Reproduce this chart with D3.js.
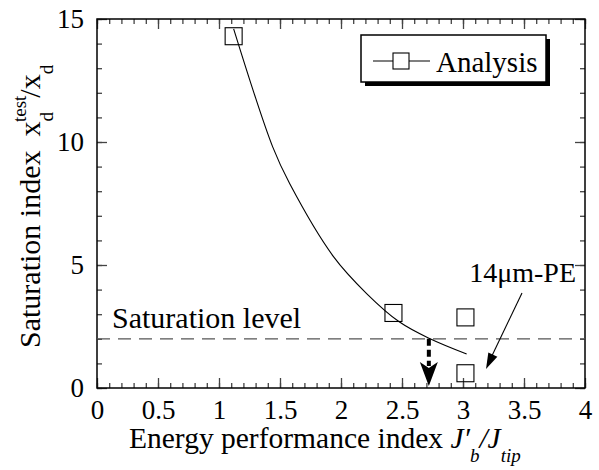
<!DOCTYPE html>
<html>
<meta charset="utf-8">
<style>
  body { margin: 0; background: #fff; }
  svg text { font-family: "Liberation Serif", "DejaVu Serif", serif !important; fill: #000; }
</style>
<body>
<svg width="599" height="470"></svg>
<script src="https://d3js.org/d3.v7.min.js"></script>
<script>
  // measured test points
  const testX = [1.12, 2.43, 3.02, 3.02]
  const testY = [14.3, 3.05, 2.87, 0.6]
  // analysis curve
  const curveX = [1.12, 1.44, 1.58, 1.94, 2.21, 2.48, 2.73, 3.03]
  const curveY = [14.6, 9.8, 8.3, 5.33, 3.84, 2.68, 2.0, 1.38]
  const xMajor = [0, 0.5, 1, 1.5, 2, 2.5, 3, 3.5, 4]
  const xMajorLabels = ['0', '0.5', '1', '1.5', '2', '2.5', '3', '3.5', '4']
  const yMajor = [0, 5, 10, 15]
  const satLevel = 2
  const satX = 2.72

  const L = 97, R = 585, T = 19, B = 388
  const svg = d3.select('svg')
  const x = d3.scaleLinear().domain([0, 4]).range([L, R])
  const y = d3.scaleLinear().domain([0, 15]).range([B, T])

  const xMinor = d3.range(0, 41).map(d => d / 10)
  const yMinor = d3.range(0, 16)

  // minor ticks
  svg.append('g').attr('transform', `translate(0,${B})`)
    .call(d3.axisBottom(x).tickValues(xMinor).tickSize(-5).tickFormat(''))
  svg.append('g').attr('transform', `translate(0,${T})`)
    .call(d3.axisTop(x).tickValues(xMinor).tickSize(-5).tickFormat(''))
  svg.append('g').attr('transform', `translate(${L},0)`)
    .call(d3.axisLeft(y).tickValues(yMinor).tickSize(-5).tickFormat(''))
  svg.append('g').attr('transform', `translate(${R},0)`)
    .call(d3.axisRight(y).tickValues(yMinor).tickSize(-5).tickFormat(''))

  // major ticks with labels
  svg.append('g').attr('transform', `translate(0,${B})`)
    .call(d3.axisBottom(x).tickValues(xMajor).tickSize(-10).tickPadding(12)
      .tickFormat((d, i) => xMajorLabels[i]))
  svg.append('g').attr('transform', `translate(0,${T})`)
    .call(d3.axisTop(x).tickValues(xMajor).tickSize(-10).tickFormat(''))
  svg.append('g').attr('transform', `translate(${L},0)`)
    .call(d3.axisLeft(y).tickValues(yMajor).tickSize(-10).tickPadding(13).tickFormat(d3.format('d')))
  svg.append('g').attr('transform', `translate(${R},0)`)
    .call(d3.axisRight(y).tickValues(yMajor).tickSize(-10).tickFormat(''))

  svg.selectAll('.domain').remove()
  svg.selectAll('.tick line').attr('stroke', '#444').attr('stroke-width', 1.3)
  svg.selectAll('.tick text').style('font-size', '27px').attr('fill', '#000')

  // frame
  svg.append('rect').attr('x', L).attr('y', T).attr('width', R - L).attr('height', B - T)
    .attr('fill', 'none').attr('stroke', '#000').attr('stroke-width', 1.5)

  // saturation level dashed line
  svg.append('line').attr('x1', L).attr('x2', R).attr('y1', y(satLevel)).attr('y2', y(satLevel))
    .attr('stroke', '#555').attr('stroke-width', 1.3).attr('stroke-dasharray', '13,8')

  svg.append('text').attr('x', 112).attr('y', 328).style('font-size', '30px').text('Saturation level')

  // analysis curve
  const pts = curveX.map((d, i) => [d, curveY[i]])
  svg.append('path').datum(pts)
    .attr('d', d3.line().x(d => x(d[0])).y(d => y(d[1])).curve(d3.curveCatmullRom))
    .attr('fill', 'none').attr('stroke', '#000').attr('stroke-width', 1.1)

  // test squares
  const s = 17
  svg.append('g').selectAll('rect').data(testX).enter().append('rect')
    .attr('x', d => x(d) - s / 2)
    .attr('y', (d, i) => y(testY[i]) - s / 2)
    .attr('width', s).attr('height', s)
    .attr('fill', 'none').attr('stroke', '#000').attr('stroke-width', 1.1)

  // arrow from saturation crossing down to axis
  const ax = x(satX)
  svg.append('line').attr('x1', ax).attr('x2', ax)
    .attr('y1', y(satLevel)).attr('y2', 366)
    .attr('stroke', '#000').attr('stroke-width', 4).attr('stroke-dasharray', '7,4')
  svg.append('path')
    .attr('d', `M${ax - 9},${362} L${ax},${368} L${ax + 9},${362} L${ax},${386} Z`)
    .attr('fill', '#000')

  // 14um-PE annotation
  svg.append('text').attr('x', 576).attr('y', 282).attr('text-anchor', 'end')
    .style('font-size', '28px').text('14μm-PE')
  const a1 = [522, 293], a2 = [486, 369]
  svg.append('line').attr('x1', a1[0]).attr('y1', a1[1]).attr('x2', a2[0] + 3).attr('y2', a2[1] - 7)
    .attr('stroke', '#000').attr('stroke-width', 1.1)
  const ang = Math.atan2(a2[1] - a1[1], a2[0] - a1[0])
  const hl = 16, hw = 5
  const bx = a2[0] - hl * Math.cos(ang), by = a2[1] - hl * Math.sin(ang)
  svg.append('path')
    .attr('d', `M${a2[0]},${a2[1]} L${bx + hw * Math.sin(ang)},${by - hw * Math.cos(ang)} L${bx - hw * Math.sin(ang)},${by + hw * Math.cos(ang)} Z`)
    .attr('fill', '#000')

  // legend
  const lg = svg.append('g')
  lg.append('rect').attr('x', 365).attr('y', 39).attr('width', 185).attr('height', 47).attr('fill', '#000')
  lg.append('rect').attr('x', 361).attr('y', 35).attr('width', 185).attr('height', 47)
    .attr('fill', '#fff').attr('stroke', '#000').attr('stroke-width', 1.5)
  lg.append('line').attr('x1', 373).attr('x2', 430).attr('y1', 61).attr('y2', 61)
    .attr('stroke', '#000').attr('stroke-width', 1.1)
  lg.append('rect').attr('x', 393).attr('y', 53).attr('width', 16).attr('height', 16)
    .attr('fill', '#fff').attr('stroke', '#000').attr('stroke-width', 1.1)
  lg.append('text').attr('x', 436).attr('y', 72).style('font-size', '29px').text('Analysis')

  // axis titles
  const xt = svg.append('text').attr('x', 129).attr('y', 448).style('font-size', '29.5px')
  xt.append('tspan').text('Energy performance index ')
  xt.append('tspan').style('font-style', 'italic').text('J′')
  xt.append('tspan').style('font-style', 'italic').style('font-size', '19px').attr('dy', 14).text('b')
  xt.append('tspan').style('font-style', 'italic').attr('dy', -14).text('/J')
  xt.append('tspan').style('font-style', 'italic').style('font-size', '19px').attr('dy', 14).text('tip')

  const yt = svg.append('text').attr('transform', 'translate(40,348) rotate(-90)').style('font-size', '30px')
  yt.append('tspan').text('Saturation index')
  yt.append('tspan').attr('dx', 14).text('x')
  yt.append('tspan').style('font-size', '19px').attr('dy', 13).text('d')
  yt.append('tspan').style('font-size', '19px').attr('dx', -10).attr('dy', -27).text('test')
  yt.append('tspan').attr('dx', -2).attr('dy', 14).text('/x')
  yt.append('tspan').style('font-size', '19px').attr('dy', 13).text('d')
</script>
</body>
</html>
